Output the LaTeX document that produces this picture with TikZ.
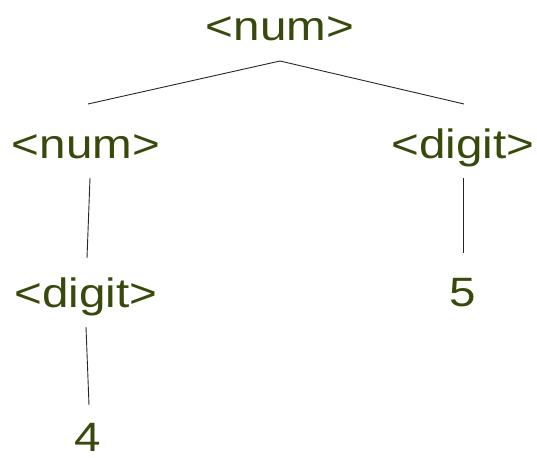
\documentclass[tikz,border=0pt]{standalone}
\usepackage{fontspec}
\setmainfont{Liberation Sans}
\usepackage{graphicx}
\definecolor{txt}{HTML}{38490C}
\tikzset{
  lbl/.style={anchor=base, inner sep=0pt, text=txt, font=\fontsize{41}{45}\selectfont},
  edge/.style={draw=black!85, line width=0.9pt}
}
\newcommand{\wide}[1]{\scalebox{1.16}[1]{#1}}
\begin{document}
\begin{tikzpicture}[x=1pt,y=-1pt]
\useasboundingbox (0,0) rectangle (537,457);
\node[lbl] (n1) at (280,41) {\wide{<num>}};
\node[lbl] (n2) at (86,158) {\wide{<num>}};
\node[lbl] (d1) at (463,158) {\wide{<digit>}};
\node[lbl] (d2) at (86,307) {\wide{<digit>}};
\node[lbl] (five) at (463,306) {\wide{5}};
\node[lbl] (four) at (88,451) {\wide{4}};
\coordinate (n1b) at (280,61);
\coordinate (n2t) at (88,104);
\coordinate (d1t) at (464,104);
\coordinate (n2b) at (90,178);
\coordinate (d2t) at (87,258);
\coordinate (d1b) at (463,178);
\coordinate (fivet) at (463,253);
\coordinate (d2b) at (86,327);
\coordinate (fourt) at (89,405);
\draw[edge] (n2t) -- (n1b) -- (d1t);
\draw[edge] (n2b) -- (d2t);
\draw[edge] (d1b) -- (fivet);
\draw[edge] (d2b) -- (fourt);
\end{tikzpicture}
\end{document}
